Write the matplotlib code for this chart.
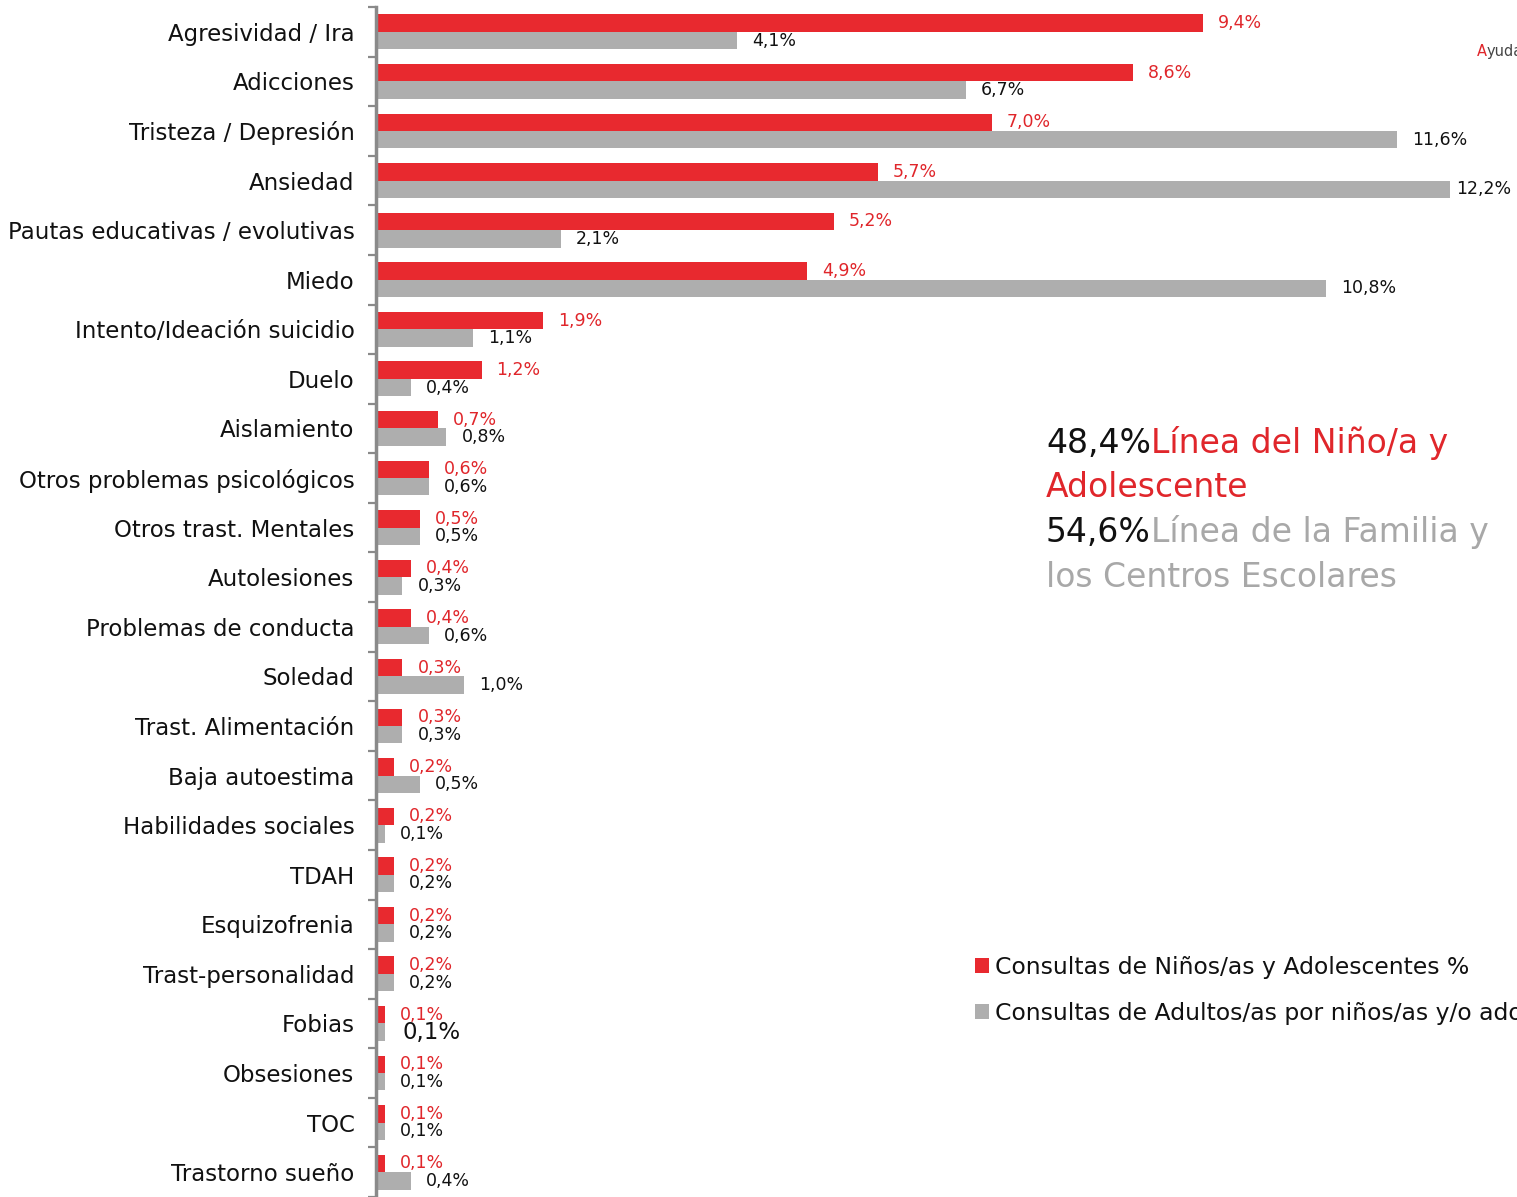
import matplotlib
matplotlib.use("Agg")
import matplotlib.pyplot as plt
import numpy as np

categories = ["Agresividad / Ira", "Adicciones", "Tristeza / Depresión", "Ansiedad",
              "Pautas educativas / evolutivas", "Miedo", "Intento/Ideación suicidio", "Duelo",
              "Aislamiento", "Otros problemas psicológicos", "Otros trast. Mentales",
              "Autolesiones", "Problemas de conducta", "Soledad", "Trast. Alimentación",
              "Baja autoestima", "Habilidades sociales", "TDAH", "Esquizofrenia",
              "Trast-personalidad", "Fobias", "Obsesiones", "TOC", "Trastorno sueño"]
ninos = [9.4, 8.6, 7.0, 5.7, 5.2, 4.9, 1.9, 1.2, 0.7, 0.6, 0.5, 0.4, 0.4, 0.3, 0.3,
         0.2, 0.2, 0.2, 0.2, 0.2, 0.1, 0.1, 0.1, 0.1]
adultos = [4.1, 6.7, 11.6, 12.2, 2.1, 10.8, 1.1, 0.4, 0.8, 0.6, 0.5, 0.3, 0.6, 1.0, 0.3,
           0.5, 0.1, 0.2, 0.2, 0.2, 0.1, 0.1, 0.1, 0.4]
legend_labels = ["Consultas de Niños/as y Adolescentes %",
                 "Consultas de Adultos/as por niños/as y/o adolescentes %"]

RED = "#E8292F"
GRAY = "#AEAEAE"
TXTRED = "#E0262B"
TXTGRAY = "#A8A8A8"

W, H = 1517, 1197
fig = plt.figure(figsize=(W / 100, H / 100), dpi=100)
plt.rcParams['font.family'] = ['DejaVu Sans']

ax = fig.add_axes([376 / W, 0, 1 - 376 / W, (H - 7) / H])
n = len(categories)
y = np.arange(n)
h = 0.352
ax.barh(y - h / 2, ninos, height=h, color=RED, label=legend_labels[0])
ax.barh(y + h / 2, adultos, height=h, color=GRAY, label=legend_labels[1])
ax.set_ylim(n - 0.5, -0.5)
ax.set_xlim(0, (W - 376) / 88.0)

for s in ["top", "right", "bottom"]:
    ax.spines[s].set_visible(False)
ax.spines["left"].set_color("#8A8A8A")
ax.spines["left"].set_linewidth(2.5)
ax.set_xticks([])
ax.set_yticks(y)
ax.set_yticklabels(categories, fontsize=16.5, color="#111111")
ax.tick_params(axis="y", which="major", length=0, pad=15.5)
ax.set_yticks(np.arange(-0.5, n, 1.0), minor=True)
ax.tick_params(axis="y", which="minor", length=6, width=1.6, color="#8A8A8A", direction="out")

for i in range(n):
    ax.annotate(f"{ninos[i]:.1f}%".replace(".", ","), xy=(ninos[i], y[i] - h / 2),
                xytext=(15, 0), textcoords="offset pixels", va="center", ha="left",
                fontsize=12.5, color=TXTRED)
    big = categories[i] == "Fobias"
    dx = 18 if big else (7 if adultos[i] >= 12 else 15)
    ax.annotate(f"{adultos[i]:.1f}%".replace(".", ","), xy=(adultos[i], y[i] + h / 2),
                xytext=(dx, 0), textcoords="offset pixels", va="center",
                ha="left", fontsize=12.5 if not big else 16.5, color="#111111")

# Legend
leg = fig.legend(loc="upper left", bbox_to_anchor=(975 / W, 1 - 956 / H), frameon=False,
                 fontsize=16.9, handlelength=0.6, handleheight=0.6, handletextpad=0.26,
                 labelspacing=0.98, borderaxespad=0, borderpad=0)
for t in leg.get_texts():
    t.set_color("#111111")

# Summary text
fig.canvas.draw()
renderer = fig.canvas.get_renderer()


def chain(x_px, y_px, parts, size):
    xp = x_px
    for txt, col in parts:
        t = fig.text(xp / W, 1 - y_px / H, txt, color=col, fontsize=size, va="baseline", ha="left")
        bb = t.get_window_extent(renderer=renderer)
        xp = bb.x1
    return xp


chain(1046, 453, [("48,4%", "#111111"), ("Línea del Niño/a y", TXTRED)], 23.8)
chain(1046, 497, [("Adolescente", TXTRED)], 23.8)
chain(1046, 542, [("54,6%", "#111111"), ("Línea de la Familia y", TXTGRAY)], 23.8)
chain(1046, 587, [("los Centros Escolares", TXTGRAY)], 23.8)
chain(1477, 56, [("A", TXTRED), ("yuda", "#444444")], 10.5)

fig.savefig("out.png", dpi=100)
